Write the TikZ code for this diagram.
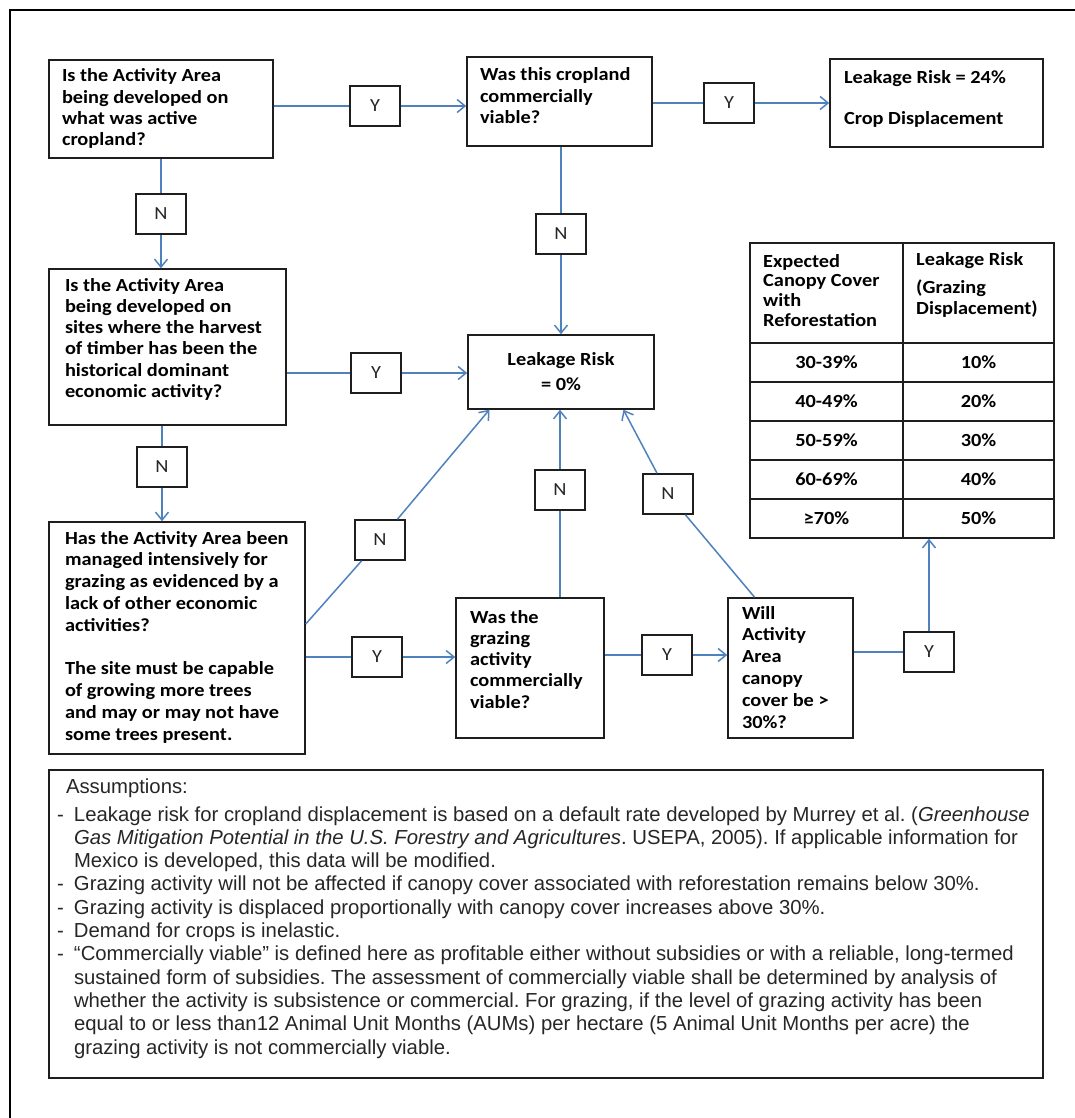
\documentclass[tikz,border=0pt]{standalone}
\usepackage{fontspec}
\setmainfont{Liberation Sans}
\newfontfamily\boxfont[FakeStretch=1.1]{Carlito}
\usetikzlibrary{arrows.meta,calc}
\definecolor{connblue}{RGB}{79,129,189}
\definecolor{inkline}{RGB}{30,30,30}
\newcommand\tb[4]{\parbox[c][#2pt][t]{#1pt}{\raggedright\rule{0pt}{#3pt}#4}}
\frenchspacing
\begin{document}
\begin{tikzpicture}[x=1pt,y=-1pt,
  qbox/.style={draw=inkline, line width=1.5pt, inner sep=0pt, font={\boxfont\bfseries\fontsize{18.5}{21.3}\selectfont}},
  ynbox/.style={draw=inkline, line width=1.5pt, inner sep=0pt, minimum width=50pt, minimum height=40pt, text=black!85, font={\boxfont\fontsize{18.5}{21.3}\selectfont}},
  link/.style={draw=connblue, line width=1.5pt},
  arrowlink/.style={link, -{Straight Barb[length=8pt,width=13pt]}},
  cell/.style={inner sep=0pt, font={\boxfont\bfseries\fontsize{18.5}{21.3}\selectfont}},
  rule/.style={draw=inkline, line width=1.5pt},
]
\useasboundingbox (0,0) rectangle (1074,1118);
% outer frame (cut off at right and bottom)
\draw[line width=2.5pt] (10,1130) -- (10,10) -- (1090,10);

% question / result boxes
\node[qbox, minimum width=224pt, minimum height=98pt] (A) at (161,109)
  {\tb{198}{98}{22}{Is the Activity Area\\being developed on\\what was active\\cropland?}};
\node[qbox, minimum width=185pt, minimum height=89pt] (B) at (559.5,101.5)
  {\tb{159}{89}{24}{Was this cropland\\commercially\\viable?}};
\node[qbox, minimum width=213pt, minimum height=88pt] (C) at (936.5,103)
  {\tb{185}{88}{25}{Leakage Risk = 24\%\\[19.7pt]Crop Displacement}};
\node[qbox, minimum width=237pt, minimum height=156pt] (D) at (167.5,347)
  {\tb{205}{156}{22}{Is the Activity Area\\being developed on\\sites where the harvest\\of timber has been the\\historical dominant\\economic activity?}};
\node[qbox, minimum width=256pt, minimum height=232pt] (E) at (177,638)
  {\tb{224}{232}{22}{\fontsize{18.5}{21.8}\selectfont Has the Activity Area been\\managed intensively for\\grazing as evidenced by a\\lack of other economic\\activities?\\[21.8pt]The site must be capable\\of growing more trees\\and may or may not have\\some trees present.}};
\node[qbox, minimum width=148pt, minimum height=140pt] (F) at (530,668)
  {\tb{120}{140}{25}{Was the\\grazing\\activity\\commercially\\viable?}};
\node[qbox, minimum width=125pt, minimum height=140pt] (G) at (790.5,668)
  {\tb{97}{140}{21}{\fontsize{18.5}{21.8}\selectfont Will\\Activity\\Area\\canopy\\cover be >\\30\%?}};
\node[qbox, minimum width=186pt, minimum height=74pt, align=center] (Z) at (561,372)
  {Leakage Risk\\[3.7pt]= 0\%};

% Y / N label boxes
\node[ynbox] (Y1) at (375,106) {Y};
\node[ynbox] (Y2) at (729,103) {Y};
\node[ynbox] (N1) at (161,214) {N};
\node[ynbox] (Nt) at (561,234) {N};
\node[ynbox] (Y3) at (376,373) {Y};
\node[ynbox] (N2) at (162,467) {N};
\node[ynbox] (N3) at (380,540) {N};
\node[ynbox] (Y4) at (377,657) {Y};
\node[ynbox] (N4) at (560,490) {N};
\node[ynbox] (Y5) at (667,655) {Y};
\node[ynbox] (N5) at (668,494) {N};
\node[ynbox] (Y6) at (929,652) {Y};

% table
\node[rule, minimum width=304pt, minimum height=295pt, inner sep=0pt] (T) at (902,390.5) {};
\coordinate (Tcol) at (903,0);
\draw[rule] (T.north -| Tcol) -- (T.south -| Tcol);
\foreach \yy in {343,382,421,460,499} \draw[rule] (T.west |- 0,\yy) -- (T.east |- 0,\yy);
\node[cell, anchor=north west] (H1) at (763,243)
  {\parbox[t]{135pt}{\fontsize{18.5}{19.7}\selectfont\raggedright\rule{0pt}{24pt}Expected\\Canopy Cover\\with\\Reforestation}};
\node[cell, anchor=north west] (H2) at (916,243)
  {\parbox[t]{135pt}{\raggedright\rule{0pt}{22pt}Leakage Risk\\[6.7pt](Grazing\\Displacement)}};
\node[cell] (r1a) at (826.5,362.5) {30-39\%};
\node[cell] (r1b) at (978.5,362.5) {10\%};
\node[cell] (r2a) at (826.5,401.5) {40-49\%};
\node[cell] (r2b) at (978.5,401.5) {20\%};
\node[cell] (r3a) at (826.5,440.5) {50-59\%};
\node[cell] (r3b) at (978.5,440.5) {30\%};
\node[cell] (r4a) at (826.5,479.5) {60-69\%};
\node[cell] (r4b) at (978.5,479.5) {40\%};
\node[cell] (r5a) at (826.5,518.5) {≥70\%};
\node[cell] (r5b) at (978.5,518.5) {50\%};

% connectors
\draw[link] (A.east |- Y1) -- (Y1);
\draw[arrowlink] (Y1) -- (B.west |- Y1);
\draw[link] (B.east |- Y2) -- (Y2);
\draw[arrowlink] (Y2) -- (C.west |- Y2);
\draw[link] (A.south -| N1) -- (N1);
\draw[arrowlink] (N1) -- (D.north -| N1);
\draw[link] (B.south -| Nt) -- (Nt);
\draw[arrowlink] (Nt) -- (Z.north -| Nt);
\draw[link] (D.east |- Y3) -- (Y3);
\draw[arrowlink] (Y3) -- (Z.west |- Y3);
\draw[link] (D.south -| N2) -- (N2);
\draw[arrowlink] (N2) -- (E.north -| N2);
\coordinate (eN) at ($(E.north east)!0.44!(E.south east)$);
\coordinate (zN3) at ($(Z.south west)!0.118!(Z.south east)$);
\draw[link] (eN) -- (N3);
\draw[arrowlink] (N3) -- (zN3);
\draw[link] (E.east |- Y4) -- (Y4);
\draw[arrowlink] (Y4) -- (F.west |- Y4);
\draw[link] (F.north -| N4) -- (N4);
\draw[arrowlink] (N4) -- (Z.south -| N4);
\draw[link] (F.east |- Y5) -- (Y5);
\draw[arrowlink] (Y5) -- (G.west |- Y5);
\coordinate (gN) at ($(G.north west)!0.216!(G.north east)$);
\coordinate (zN5) at ($(Z.south west)!0.833!(Z.south east)$);
\draw[link] (gN) -- (N5);
\draw[arrowlink] (N5) -- (zN5);
\draw[link] (G.east |- Y6) -- (Y6);
\draw[arrowlink] (Y6) -- (T.south -| Y6);

% assumptions
\node[draw=inkline, line width=1.5pt, inner sep=0pt, minimum width=994pt, minimum height=308pt,
      font={\fontsize{20.3}{23.3}\selectfont}, text=black!85] (S) at (546,924)
  {\parbox[c][308pt][t]{978pt}{\raggedright\rule{0pt}{23pt}\hspace*{9pt}Assumptions:\\[4.7pt]
   \makebox[17pt][l]{-}Leakage risk for cropland displacement is based on a default rate developed by Murrey et al. (\textit{Greenhouse}\\
   \hspace*{17pt}\textit{Gas Mitigation Potential in the U.S. Forestry and Agricultures}. USEPA, 2005). If applicable information for\\
   \hspace*{17pt}Mexico is developed, this data will be modified.\\
   \makebox[17pt][l]{-}Grazing activity will not be affected if canopy cover associated with reforestation remains below 30\%.\\
   \makebox[17pt][l]{-}Grazing activity is displaced proportionally with canopy cover increases above 30\%.\\
   \makebox[17pt][l]{-}Demand for crops is inelastic.\\
   \makebox[17pt][l]{-}``Commercially viable'' is defined here as profitable either without subsidies or with a reliable, long-termed\\
   \hspace*{17pt}sustained form of subsidies. The assessment of commercially viable shall be determined by analysis of\\
   \hspace*{17pt}whether the activity is subsistence or commercial. For grazing, if the level of grazing activity has been\\
   \hspace*{17pt}equal to or less than12 Animal Unit Months (AUMs) per hectare (5 Animal Unit Months per acre) the\\
   \hspace*{17pt}grazing activity is not commercially viable.}};
\end{tikzpicture}
\end{document}
